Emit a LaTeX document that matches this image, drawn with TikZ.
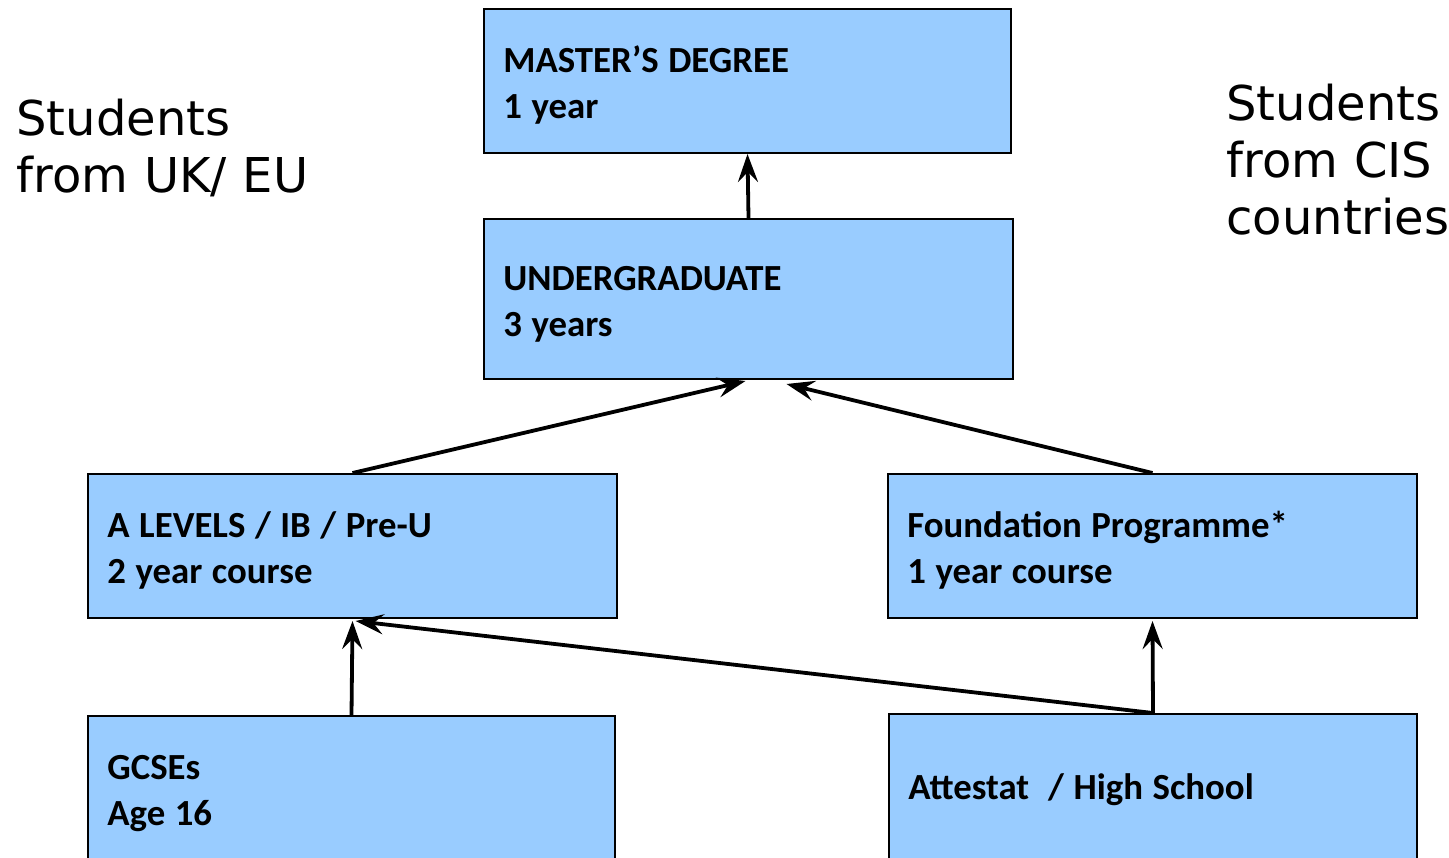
\documentclass[tikz,border=0pt]{standalone}
\usepackage{fontspec}
\setmainfont{Carlito}
\newfontfamily\sidefont{DejaVu Sans}
\usetikzlibrary{arrows.meta,calc}
\definecolor{boxblue}{RGB}{153,204,255}
\newcommand{\tightsp}{\spaceskip=0.26em\relax}
\begin{document}
\begin{tikzpicture}[x=0.5pt,y=-0.5pt,
  box/.style={draw=black, line width=1pt, fill=boxblue, rectangle, inner sep=0pt},
  lbl/.style={anchor=base west, inner sep=0pt, text width=250pt, align=left, font=\bfseries\fontsize{18.4}{23}\selectfont},
  side/.style={anchor=base west, inner sep=0pt, align=left, text width=200pt, font=\sidefont\fontsize{24}{28.7}\selectfont},
  arr/.style={line width=1.9pt, -{Stealth[length=14pt,width=10pt,inset=5pt]}}]
\useasboundingbox (0,0) rectangle (1449,857);
\clip (0,0) rectangle (1449,857);
\fill[white] (0,0) rectangle (1449,857);

\node[box, minimum width=263.5pt, minimum height=72pt] (master) at (747.5,81) {};
\node[box, minimum width=264.5pt, minimum height=80pt] (ug) at (748.5,299) {};
\node[box, minimum width=264.5pt, minimum height=72pt] (alev) at (352.5,546) {};
\node[box, minimum width=264.5pt, minimum height=72pt] (found) at (1152.5,546) {};
\node[box, minimum width=263.5pt, minimum height=82pt] (gcse) at (351.5,798) {};
\node[box, minimum width=264pt, minimum height=83pt] (att) at (1153,797) {};

\node[lbl] (tmaster) at (503,72) {\tightsp MASTER’S DEGREE\\1 year};
\node[lbl] (tug) at (503,290) {\tightsp UNDERGRADUATE\\3 years};
\node[lbl] (talev) at (107,537) {\tightsp A LEVELS / IB / Pre-U\\2 year course};
\node[lbl] (tfound) at (907,537) {\tightsp Foundation Programme*\\1 year course};
\node[lbl] (tgcse) at (107,779) {\tightsp GCSEs\\Age 16};
\node[lbl] (tatt) at (908,799) {\tightsp Attestat\hspace{0.52em}/ High School};

\node[side] (uk) at (16,135) {Students\\from UK/ EU};
\node[side] (cis) at (1226,120) {Students\\from CIS\\countries};

\draw[arr] (ug.north) -- (master.south);
\draw[arr] (alev.north) -- ($(ug.south)+(-3,1)$);
\draw[arr] (found.north) -- ($(ug.south)+(38,4)$);
\draw[arr] (gcse.north) -- ($(alev.south)+(0,2)$);
\draw[arr] (att.north) -- ($(alev.south)+(3,2)$);
\draw[arr] (att.north) -- ($(found.south)+(0,2)$);
\end{tikzpicture}
\end{document}
